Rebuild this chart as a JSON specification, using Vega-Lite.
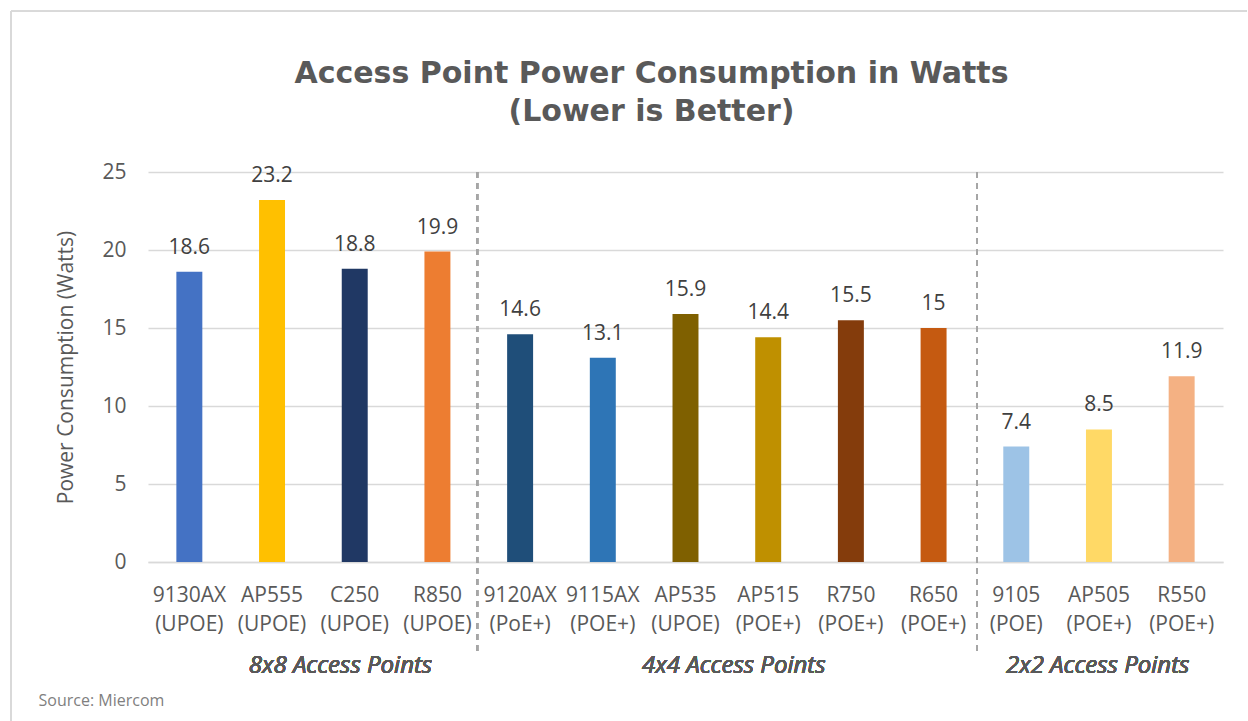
{
  "$schema": "https://vega.github.io/schema/vega-lite/v6.json",
  "width": 1075,
  "height": 390,
  "autosize": {"type": "none"},
  "padding": {"left": 148, "top": 172, "right": 25, "bottom": 159},
  "background": "white",
  "config": {"view": {"stroke": null}, "font": "Open Sans"},
  "title": {
    "text": ["Access Point Power Consumption in Watts", "(Lower is Better)"],
    "font": "DejaVu Sans",
    "fontSize": 30,
    "fontWeight": "bold",
    "color": "#595959",
    "lineHeight": 38,
    "anchor": "middle",
    "frame": "group",
    "dx": -34,
    "dy": 156,
    "offset": 40
  },
  "data": {
    "values": [
      {"model": "9130AX (UPOE)", "watts": 18.6, "color": "#4472C4"},
      {"model": "AP555 (UPOE)", "watts": 23.2, "color": "#FFC000"},
      {"model": "C250 (UPOE)", "watts": 18.8, "color": "#203864"},
      {"model": "R850 (UPOE)", "watts": 19.9, "color": "#ED7D31"},
      {"model": "9120AX (PoE+)", "watts": 14.6, "color": "#1F4E79"},
      {"model": "9115AX (POE+)", "watts": 13.1, "color": "#2E75B6"},
      {"model": "AP535 (UPOE)", "watts": 15.9, "color": "#7F6000"},
      {"model": "AP515 (POE+)", "watts": 14.4, "color": "#BF9000"},
      {"model": "R750 (POE+)", "watts": 15.5, "color": "#843C0C"},
      {"model": "R650 (POE+)", "watts": 15, "color": "#C55A11"},
      {"model": "9105 (POE)", "watts": 7.4, "color": "#9DC3E6"},
      {"model": "AP505 (POE+)", "watts": 8.5, "color": "#FFD966"},
      {"model": "R550 (POE+)", "watts": 11.9, "color": "#F4B183"}
    ]
  },
  "encoding": {
    "x": {
      "field": "model",
      "type": "nominal",
      "sort": null,
      "scale": {"paddingInner": 0.686, "paddingOuter": 0.343},
      "axis": {
        "labelExpr": "split(datum.label, ' ')",
        "labelAngle": 0,
        "labelFontSize": 21,
        "labelColor": "#595959",
        "labelLineHeight": 29,
        "labelPadding": 22,
        "labelBaseline": "top",
        "ticks": false,
        "domain": true,
        "domainColor": "#D9D9D9",
        "domainWidth": 1.5,
        "title": "Source: Miercom",
        "titleAnchor": "start",
        "titleAlign": "left",
        "titleBaseline": "alphabetic",
        "titleX": -110,
        "titleY": 143,
        "titleFontSize": 16,
        "titleFontWeight": "normal",
        "titleColor": "#7F7F7F"
      }
    },
    "y": {
      "field": "watts",
      "type": "quantitative",
      "scale": {"domain": [0, 25], "nice": false},
      "axis": {
        "values": [0, 5, 10, 15, 20, 25],
        "title": "Power Consumption (Watts)",
        "titleFontSize": 21,
        "titleFontWeight": "normal",
        "titleColor": "#595959",
        "titlePadding": 25,
        "labelFontSize": 21,
        "labelColor": "#595959",
        "labelPadding": 22,
        "ticks": false,
        "domain": false,
        "gridColor": "#D9D9D9",
        "gridWidth": 1.5
      }
    }
  },
  "layer": [
    {
      "mark": {"type": "bar"},
      "encoding": {"color": {"field": "color", "type": "nominal", "scale": null}}
    },
    {
      "mark": {"type": "text", "fontSize": 21, "color": "#404040", "baseline": "alphabetic", "dy": -18},
      "encoding": {"text": {"field": "watts", "type": "quantitative"}}
    },
    {
      "mark": {"type": "rule", "color": "#A6A6A6", "strokeWidth": 1.5, "strokeDash": [6, 5]},
      "encoding": {
        "x": {"datum": "R850 (UPOE)", "bandPosition": 2.04},
        "y": {"datum": 25},
        "y2": {"datum": -5.8}
      }
    },
    {
      "mark": {"type": "rule", "color": "#A6A6A6", "strokeWidth": 1.5, "strokeDash": [6, 5]},
      "encoding": {
        "x": {"datum": "R650 (POE+)", "bandPosition": 2.17},
        "y": {"datum": 25},
        "y2": {"datum": -5.8}
      }
    },
    {
      "mark": {"type": "text", "fontSize": 24, "fontStyle": "italic", "color": "#595959", "align": "center", "baseline": "alphabetic"},
      "encoding": {
        "x": {"datum": "C250 (UPOE)", "bandPosition": -0.05},
        "y": {"datum": -7.1},
        "text": {"value": "8x8 Access Points"}
      }
    },
    {
      "mark": {"type": "text", "fontSize": 24, "fontStyle": "italic", "color": "#595959", "align": "center", "baseline": "alphabetic"},
      "encoding": {
        "x": {"datum": "AP535 (UPOE)", "bandPosition": 2.36},
        "y": {"datum": -7.1},
        "text": {"value": "4x4 Access Points"}
      }
    },
    {
      "mark": {"type": "text", "fontSize": 24, "fontStyle": "italic", "color": "#595959", "align": "center", "baseline": "alphabetic"},
      "encoding": {
        "x": {"datum": "AP505 (POE+)", "bandPosition": 0.45},
        "y": {"datum": -7.1},
        "text": {"value": "2x2 Access Points"}
      }
    },
    {
      "mark": {"type": "rule", "color": "#D9D9D9", "strokeWidth": 1.5},
      "encoding": {
        "x": {"datum": "9130AX (UPOE)", "bandPosition": -6.36},
        "y": {"datum": 35.3},
        "y2": {"datum": -11}
      }
    },
    {
      "mark": {"type": "rule", "color": "#D9D9D9", "strokeWidth": 1.5},
      "encoding": {
        "x": {"datum": "9130AX (UPOE)", "bandPosition": -6.36},
        "x2": {"datum": "R550 (POE+)", "bandPosition": 3},
        "y": {"datum": 35.3}
      }
    }
  ]
}
